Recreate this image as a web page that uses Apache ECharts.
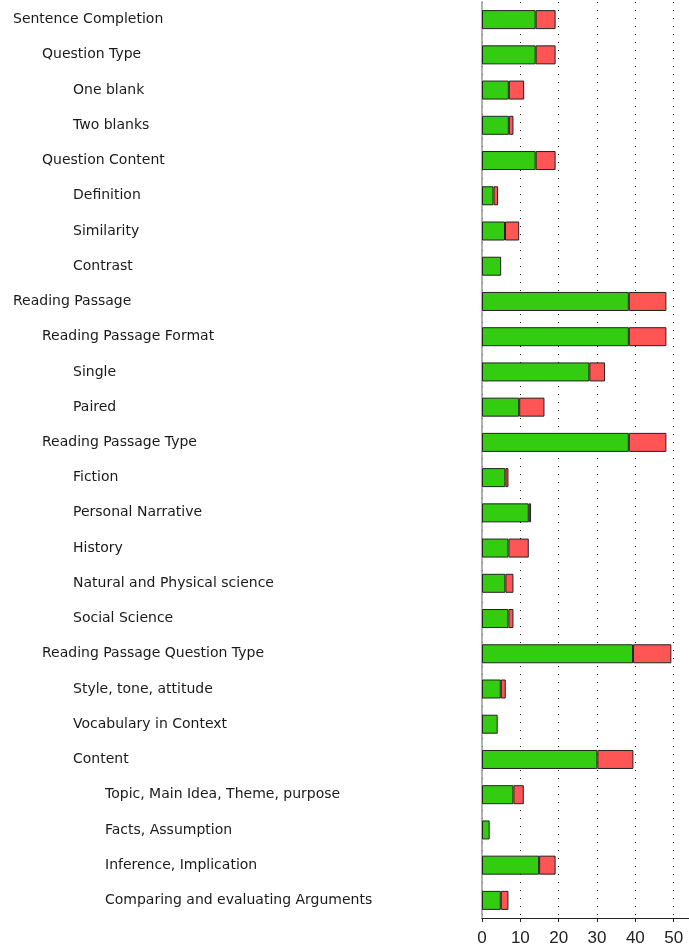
<!DOCTYPE html>
<html><head><meta charset="utf-8">
<script src="https://cdn.jsdelivr.net/npm/echarts@6/dist/echarts.min.js"></script>
<style>html,body{margin:0;padding:0;background:#fff}#c{width:689px;height:950px}</style>
</head><body><div id="c"></div>
<script>
const categories = [
  "Sentence Completion","Question Type","One blank","Two blanks","Question Content",
  "Definition","Similarity","Contrast","Reading Passage","Reading Passage Format",
  "Single","Paired","Reading Passage Type","Fiction","Personal Narrative","History",
  "Natural and Physical science","Social Science","Reading Passage Question Type",
  "Style, tone, attitude","Vocabulary in Context","Content","Topic, Main Idea, Theme, purpose",
  "Facts, Assumption","Inference, Implication","Comparing and evaluating Arguments"
];
const levels = [0,1,2,2,1,2,2,2,0,1,2,2,1,2,2,2,2,2,1,2,2,2,3,3,3,3];
const greenValues = [14,14,7,7,14,3,6,5,38.3,38.3,28,9.7,38.3,6.1,12.2,6.9,6.1,6.9,39.4,4.9,4.1,30.1,8.2,2,14.9,4.9];
const redValues   = [5.2,5.2,4,1.2,5.2,1.2,3.7,0,9.8,9.8,4.1,6.6,9.8,0.8,0.6,5.3,2.1,1.3,10,1.3,0,9.4,2.7,0,4.3,2];
const tickLabels = [0,10,20,30,40,50];

const chart = echarts.init(document.getElementById('c'), null, {renderer:'canvas'});
const rich = {};
[0,1,2,3].forEach(l => { rich['l'+l] = {fontFamily:'DejaVu Sans', fontSize:14, color:'#1a1a1a', padding:[0,0,0,[0,29,60,92][l]]}; });
chart.setOption({
  animation:false,
  grid:{left:482, right:0, top:2, bottom:32},
  xAxis:{
    type:'value', min:0, max:54, interval:10,
    axisLine:{show:true, lineStyle:{color:'#222', width:1}},
    axisTick:{show:true, length:4, lineStyle:{color:'#222'}},
    axisLabel:{showMaxLabel:false, margin:12, fontFamily:'Liberation Sans', fontSize:17, color:'#222',
      formatter:v => tickLabels.includes(v) ? String(v) : ''},
    splitLine:{show:true, lineStyle:{color:'#111', type:[1,7], width:1}}
  },
  yAxis:{
    type:'category', inverse:true, data:categories,
    axisLine:{show:true, lineStyle:{color:'#999', width:1.5}},
    axisTick:{show:false},
    axisLabel:{align:'left', margin:469, interval:0,
      formatter:(v, i) => '{l'+levels[i]+'|'+v+'}', rich:rich}
  },
  series:[
    {type:'bar', stack:'s', data:greenValues, barWidth:19,
      itemStyle:{color:'#33cc11', borderColor:'#222', borderWidth:1}},
    {type:'bar', stack:'s', data:redValues.map(v => v === 0 ? null : v), barWidth:19,
      itemStyle:{color:'#ff5555', borderColor:'#222', borderWidth:1}}
  ]
});
</script></body></html>
